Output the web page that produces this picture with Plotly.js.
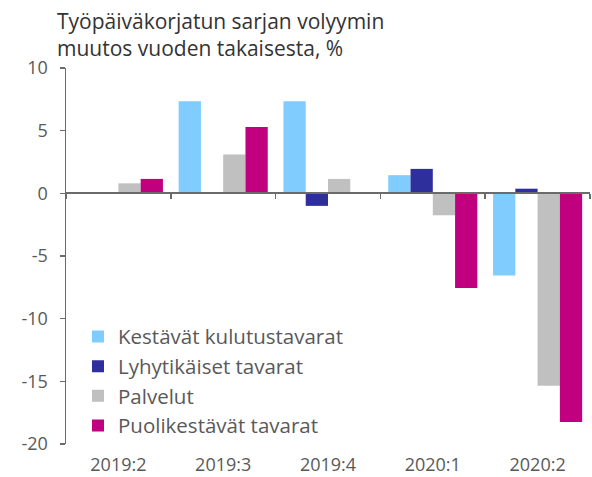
<!DOCTYPE html>
<html><head><meta charset="utf-8">
<script src="https://cdn.plot.ly/plotly-3.0.1.min.js"></script>
<style>html,body{margin:0;padding:0;background:#fff}#chart{width:592px;height:477px}</style>
</head><body><div id="chart"></div>
<script>
const categories = ["2019:2", "2019:3", "2019:4", "2020:1", "2020:2"];
const kestavat = [-0.05, 7.35, 7.35, 1.45, -6.55];
const lyhytikaiset = [0.1, -0.05, -1.0, 1.95, 0.37];
const palvelut = [0.8, 3.1, 1.15, -1.75, -15.35];
const puolikestavat = [1.15, 5.3, 0.08, -7.55, -18.25];
const seriesNames = ["Kestävät kulutustavarat", "Lyhytikäiset tavarat", "Palvelut", "Puolikestävät tavarat"];
const seriesColors = ["#80CCFF", "#2E2E9C", "#C0C0C0", "#C0007F"];
const yRange = [-20, 10];
const yTicks = [-20, -15, -10, -5, 0, 5, 10];
const titleText = "Työpäiväkorjatun sarjan volyymin<br>muutos vuoden takaisesta, %";

const FONT = "Open Sans, sans-serif";
const values = [kestavat, lyhytikaiset, palvelut, puolikestavat];
const traces = values.map((v, i) => ({
  type: "bar", x: categories, y: v, name: seriesNames[i],
  marker: {color: seriesColors[i], line: {width: 0}},
  legendgroup: "g" + i, hoverinfo: "x+y+name"
}));
traces.push({type: "scatter", mode: "none", x: categories, y: categories.map(() => null),
  xaxis: "x2", showlegend: false, hoverinfo: "skip"});

const zeroPos = (0 - yRange[0]) / (yRange[1] - yRange[0]);
const layout = {
  width: 592, height: 477,
  margin: {l: 66, r: 2, t: 68, b: 32.5, pad: 0},
  paper_bgcolor: "#fff", plot_bgcolor: "#fff",
  font: {family: FONT, color: "#595959"},
  barmode: "group", bargap: 0.15, bargroupgap: 0,
  title: {text: titleText, xref: "container", yref: "container", x: 57/592, xanchor: "left",
    y: 1 - 29/477, yanchor: "top", font: {family: FONT, size: 21, color: "#333"}},
  xaxis: {type: "category", showline: false, ticks: "", showgrid: false, zeroline: false,
    tickfont: {size: 18, color: "#595959"}, ticklabelstandoff: 8, fixedrange: true},
  xaxis2: {type: "category", overlaying: "x", matches: "x", anchor: "free", position: zeroPos,
    showline: true, linecolor: "#6b6b6b", linewidth: 2, ticks: "outside", tickson: "boundaries",
    ticklen: 5, tickwidth: 1.5, tickcolor: "#6b6b6b", showticklabels: false, showgrid: false, zeroline: false},
  yaxis: {range: yRange, tickvals: yTicks, ticktext: yTicks.map(String), showgrid: false, zeroline: false,
    showline: true, linecolor: "#6b6b6b", linewidth: 1.5, ticks: "outside", ticklen: 5, tickwidth: 1.5,
    tickcolor: "#6b6b6b", tickfont: {size: 18, color: "#595959"}, ticklabelstandoff: 8, fixedrange: true},
  legend: {x: (78-66)/524, xanchor: "left", y: (444.5-317)/376.5, yanchor: "top",
    bgcolor: "rgba(0,0,0,0)", font: {size: 20.5, color: "#595959"}, traceorder: "normal",
    tracegroupgap: 0, itemclick: false, itemdoubleclick: false},
  showlegend: true
};
Plotly.newPlot("chart", traces, layout, {displayModeBar: false, staticPlot: true});
</script></body></html>
